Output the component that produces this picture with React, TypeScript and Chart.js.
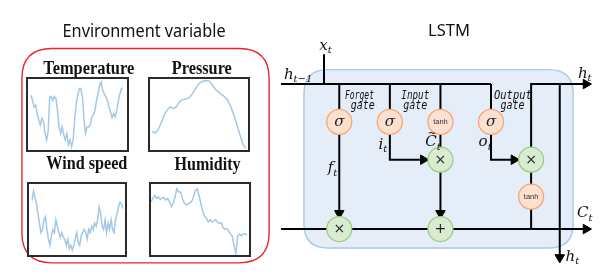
import React, { useEffect, useRef } from 'react';
import { Chart, registerables } from 'chart.js';
Chart.register(...registerables);

// ---------- Data (arbitrary units) ----------
const temperatureSeries = [83, 75, 65, 68, 55, 45, 38, 48, 43, 25, 15, 28, 80, 81, 75, 81, 78, 60, 35, 25, 35, 23, 15, 25, 8, 15, 5, 15, 45, 70, 83, 93, 93, 80, 45, 25, 35, 35, 38, 50, 53, 60, 75, 85, 98, 103, 90, 85, 80, 75, 65, 58, 49, 55, 50, 60, 75, 85, 93, 94];
const pressureSeries = [28.5, 26, 31, 41, 53.5, 61, 66, 63.5, 66, 73.5, 77, 78, 79, 83.5, 91, 98.5, 103.5, 105.5, 106, 105, 98.5, 92, 88.5, 84.5, 81, 76, 66, 53.5, 38.5, 23.5, 8.5, 2.5];
const windSeries = [85, 100, 90, 80, 65, 50, 35, 40, 55, 60, 40, 25, 15, 30, 40, 35, 55, 45, 35, 27.5, 35, 27.5, 25, 15, 25, 10, 15, 7.5, 15, 25, 35, 20, 15, 30, 35, 40, 35, 25, 40, 35, 45, 40, 50, 45, 55, 75, 65, 45, 40, 55, 35, 50, 40, 55, 40, 35, 55, 65, 75, 82.5, 80, 72.5];
const humiditySeries = [82.5, 87.5, 92.5, 87.5, 90, 86, 88.5, 89, 85, 87.5, 82.5, 75, 80, 90, 102.5, 97.5, 97.5, 87.5, 81, 77.5, 79, 81, 82.5, 90, 100, 102.5, 92.5, 80, 67.5, 60, 57.5, 51, 55, 51, 52.5, 55, 51, 49, 50, 42.5, 40, 41, 37.5, 32.5, 29, 15, 2.5, 30, 32.5, 30, 32.5, 32.5, 31];

const panelTitles = ['Temperature', 'Pressure', 'Wind speed', 'Humidity'];
const panelSeries = [temperatureSeries, pressureSeries, windSeries, humiditySeries];
const panelMax = [107.5, 108.5, 111, 110];

// ---------- LSTM diagram structure (diagram units) ----------
const wires: [number, number][][] = [
  [[280, 78], [500, 78]],
  [[325, 45], [325, 78]],
  [[341, 78], [341, 239]],
  [[394, 78], [394, 162], [430, 162]],
  [[447, 78], [447, 239]],
  [[500, 78], [500, 162], [525, 162]],
  [[542, 239], [542, 78], [600, 78]],
  [[572, 78], [572, 271]],
  [[280, 239], [600, 239]],
];
const arrowHeads = [
  { x: 341, y: 221.5, r: 180 },
  { x: 429, y: 162, r: 90 },
  { x: 447, y: 221.5, r: 180 },
  { x: 524, y: 162, r: 90 },
  { x: 599.5, y: 78, r: 90 },
  { x: 599.5, y: 239, r: 90 },
  { x: 572, y: 270.5, r: 180 },
];
const activationNodes = [
  { x: 341, y: 120, label: 'σ' },
  { x: 394, y: 120, label: 'σ' },
  { x: 447, y: 120, label: 'tanh' },
  { x: 500, y: 120, label: 'σ' },
  { x: 542, y: 203, label: 'tanh' },
];
const operationNodes = [
  { x: 341, y: 239, label: '×' },
  { x: 447, y: 162, label: '×' },
  { x: 542, y: 162, label: '×' },
  { x: 447, y: 239, label: '+' },
];
const gateLabels = [
  { l1: 'Forget', l2: 'gate', x1: 347, w1: 29, x2: 353, w2: 24 },
  { l1: 'Input', l2: 'gate', x1: 406, w1: 28, x2: 408, w2: 24 },
  { l1: 'Output', l2: 'gate', x1: 503, w1: 38, x2: 510, w2: 24 },
];
const mathLabels = [
  { base: 'h', sub: 't−1', x: 283, y: 72, tilde: false },
  { base: 'x', sub: 't', x: 320, y: 40, tilde: false },
  { base: 'h', sub: 't', x: 591, y: 71, tilde: false },
  { base: 'f', sub: 't', x: 329, y: 176, tilde: false },
  { base: 'i', sub: 't', x: 382, y: 150, tilde: false },
  { base: 'C', sub: 't', x: 431, y: 147, tilde: true },
  { base: 'o', sub: 't', x: 487, y: 147, tilde: false },
  { base: 'C', sub: 't', x: 590, y: 226, tilde: false },
  { base: 'h', sub: 't', x: 578, y: 274, tilde: false },
];

// ---------- helpers ----------
function fitText(ctx: CanvasRenderingContext2D, text: string, x: number, y: number, font: string, width: number, align: CanvasTextAlign) {
  ctx.save();
  ctx.font = font;
  const w = ctx.measureText(text).width;
  const s = width / w;
  ctx.translate(x, y);
  ctx.scale(s, 1);
  ctx.textAlign = align;
  ctx.textBaseline = 'alphabetic';
  ctx.fillText(text, 0, 0);
  ctx.restore();
}

function roundRect(ctx: CanvasRenderingContext2D, x0: number, y0: number, x1: number, y1: number, r: number) {
  ctx.beginPath();
  ctx.moveTo(x0 + r, y0);
  ctx.lineTo(x1 - r, y0);
  ctx.quadraticCurveTo(x1, y0, x1, y0 + r);
  ctx.lineTo(x1, y1 - r);
  ctx.quadraticCurveTo(x1, y1, x1 - r, y1);
  ctx.lineTo(x0 + r, y1);
  ctx.quadraticCurveTo(x0, y1, x0, y1 - r);
  ctx.lineTo(x0, y0 + r);
  ctx.quadraticCurveTo(x0, y0, x0 + r, y0);
  ctx.closePath();
}

const backgroundPlugin = {
  id: 'bgBoxes',
  beforeDatasetsDraw(chart: any) {
    const ctx: CanvasRenderingContext2D = chart.ctx;
    const sx = (v: number) => chart.scales.x.getPixelForValue(v);
    const sy = (v: number) => chart.scales.y.getPixelForValue(v);
    ctx.save();
    roundRect(ctx, sx(8.5), sy(38.5), sx(267.5), sy(276.5), 30);
    ctx.strokeStyle = '#e8262c';
    ctx.lineWidth = 1.4;
    ctx.stroke();
    roundRect(ctx, sx(304), sy(62), sx(586), sy(260), 24);
    ctx.fillStyle = '#e4edf8';
    ctx.fill();
    ctx.strokeStyle = '#a7c9ea';
    ctx.lineWidth = 1.4;
    ctx.stroke();
    ctx.restore();
  },
};

const textPlugin = {
  id: 'diagramText',
  afterDatasetsDraw(chart: any) {
    const ctx: CanvasRenderingContext2D = chart.ctx;
    const sx = (v: number) => chart.scales.x.getPixelForValue(v);
    const sy = (v: number) => chart.scales.y.getPixelForValue(v);
    ctx.save();
    ctx.fillStyle = '#111';
    fitText(ctx, 'Environment variable', sx(136.5), sy(26), '18px "Noto Sans"', 163, 'center');
    fitText(ctx, 'LSTM', sx(456), sy(25), '17px "Noto Sans"', 42, 'center');

    const titlePos = [
      { x: 78.5, y: 66.5, w: 91 },
      { x: 197, y: 66.5, w: 60 },
      { x: 76.5, y: 172.5, w: 81 },
      { x: 203, y: 173, w: 66 },
    ];
    panelTitles.forEach((t, i) => {
      const p = titlePos[i];
      fitText(ctx, t, sx(p.x), sy(p.y), 'bold 18px "Liberation Serif"', p.w, 'center');
    });

    ctx.fillStyle = '#111';
    gateLabels.forEach((g) => {
      fitText(ctx, g.l1, sx(g.x1), sy(94.5), 'italic 12px "DejaVu Sans Mono"', g.w1, 'left');
      fitText(ctx, g.l2, sx(g.x2), sy(105.5), 'italic 12px "DejaVu Sans Mono"', g.w2, 'left');
    });

    ctx.textAlign = 'center';
    ctx.textBaseline = 'middle';
    activationNodes.forEach((n) => {
      if (n.label === 'tanh') {
        ctx.font = '7.5px "Liberation Sans"';
        ctx.fillStyle = '#333';
        ctx.fillText(n.label, sx(n.x), sy(n.y) + 0.5);
      } else {
        ctx.font = 'italic 15px "DejaVu Serif"';
        ctx.fillStyle = '#222';
        ctx.fillText(n.label, sx(n.x), sy(n.y) + 0.5);
      }
    });
    operationNodes.forEach((n) => {
      ctx.font = '14px "DejaVu Sans"';
      ctx.fillStyle = '#222';
      ctx.fillText(n.label, sx(n.x), sy(n.y) + 0.5);
    });

    ctx.textAlign = 'left';
    ctx.textBaseline = 'alphabetic';
    mathLabels.forEach((m) => {
      const x = sx(m.x), y = sy(m.y);
      ctx.font = 'italic 15px "DejaVu Serif"';
      ctx.fillStyle = '#111';
      ctx.fillText(m.base, x, y);
      const bw = ctx.measureText(m.base).width;
      if (m.tilde) {
        ctx.font = '10px "DejaVu Serif"';
        ctx.fillText('~', x + 2.5, y - 10);
      }
      ctx.font = 'italic 10px "DejaVu Serif"';
      ctx.fillText(m.sub, x + bw, y + 3.5);
    });
    ctx.restore();
  },
};

function LstmDiagram() {
  const ref = useRef<HTMLCanvasElement>(null);
  useEffect(() => {
    if (!ref.current) return;
    const datasets: any[] = [];
    datasets.push({
      label: 'activations',
      data: activationNodes.map((n) => ({ x: n.x, y: n.y })),
      pointRadius: 12.5,
      pointBackgroundColor: '#fde1cf',
      pointBorderColor: '#f3a77b',
      pointBorderWidth: 1.3,
      showLine: false,
      order: 0,
    });
    datasets.push({
      label: 'operations',
      data: operationNodes.map((n) => ({ x: n.x, y: n.y })),
      pointRadius: 12.5,
      pointBackgroundColor: '#d9ecd1',
      pointBorderColor: '#9ccb85',
      pointBorderWidth: 1.3,
      showLine: false,
      order: 0,
    });
    datasets.push({
      label: 'arrows',
      data: arrowHeads.map((a) => ({ x: a.x, y: a.y })),
      pointStyle: 'triangle',
      pointRadius: 5.5,
      pointRotation: arrowHeads.map((a) => a.r),
      pointBackgroundColor: '#000',
      pointBorderColor: '#000',
      pointBorderWidth: 1,
      showLine: false,
      order: 1,
    });
    wires.forEach((w, i) => {
      datasets.push({
        label: 'wire' + i,
        data: w.map(([x, y]) => ({ x, y })),
        showLine: true,
        borderColor: '#000',
        borderWidth: 2,
        pointRadius: 0,
        tension: 0,
        order: 2,
      });
    });
    const chart = new Chart(ref.current, {
      type: 'scatter',
      data: { datasets },
      options: {
        responsive: false,
        animation: false,
        devicePixelRatio: 1,
        layout: { padding: 0 },
        events: [],
        plugins: { legend: { display: false }, tooltip: { enabled: false } },
        scales: {
          x: { type: 'linear', min: 0, max: 606, display: false },
          y: { type: 'linear', min: 0, max: 278, reverse: true, display: false },
        },
      },
      plugins: [backgroundPlugin, textPlugin],
    } as any);
    return () => chart.destroy();
  }, []);
  return <canvas ref={ref} width={606} height={278} style={{ position: 'absolute', left: 0, top: 0 }} />;
}

const panelBoxes = [
  { left: 26, top: 77, w: 103, h: 75, pad: { left: 3, right: 4, top: 0, bottom: 0 } },
  { left: 148, top: 77, w: 102, h: 75, pad: { left: 2, right: 2, top: 0, bottom: 0 } },
  { left: 27, top: 182, w: 100, h: 75, pad: { left: 3, right: 2, top: 0, bottom: 0 } },
  { left: 149, top: 182, w: 102, h: 75, pad: { left: 0, right: 2, top: 0, bottom: 0 } },
];

function Panel({ idx }: { idx: number }) {
  const ref = useRef<HTMLCanvasElement>(null);
  const b = panelBoxes[idx];
  const iw = b.w - 4, ih = b.h - 4;
  useEffect(() => {
    if (!ref.current) return;
    const series = panelSeries[idx];
    const chart = new Chart(ref.current, {
      type: 'line',
      data: {
        labels: series.map((_, i) => String(i + 1)),
        datasets: [{
          label: panelTitles[idx],
          data: series,
          borderColor: '#a3c8e8',
          borderWidth: 1.5,
          pointRadius: 0,
          tension: 0,
          fill: false,
        }],
      },
      options: {
        responsive: false,
        animation: false,
        devicePixelRatio: 1,
        events: [],
        layout: { padding: b.pad },
        plugins: { legend: { display: false }, tooltip: { enabled: false } },
        scales: {
          x: { display: false, offset: false },
          y: { display: false, min: 0, max: panelMax[idx] },
        },
      },
    } as any);
    return () => chart.destroy();
  }, [idx]);
  return (
    <div style={{ position: 'absolute', left: b.left, top: b.top, width: iw, height: ih, border: '2px solid #2b2b2b', background: '#fff' }}>
      <canvas ref={ref} width={iw} height={ih} style={{ display: 'block' }} />
    </div>
  );
}

export default function App() {
  return (
    <div style={{ position: 'fixed', left: 0, top: 0, width: 606, height: 278, background: '#fff', overflow: 'hidden' }}>
      <LstmDiagram />
      {panelTitles.map((_, i) => <Panel key={i} idx={i} />)}
    </div>
  );
}
